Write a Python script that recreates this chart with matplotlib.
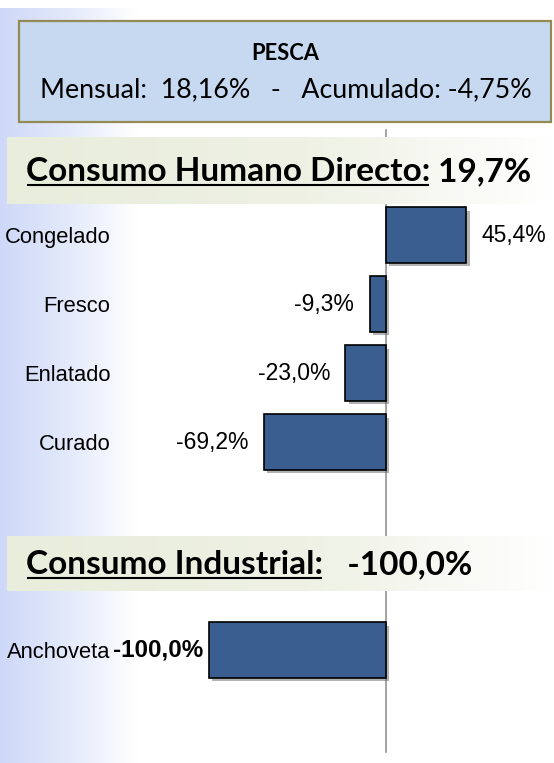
import numpy as np
import matplotlib
matplotlib.use("Agg")
import matplotlib.pyplot as plt
from matplotlib.colors import LinearSegmentedColormap
from matplotlib.patches import Rectangle
import matplotlib.patheffects as pe
import matplotlib.transforms as mtransforms
from matplotlib import font_manager as fm

# ---------------- data ----------------
header_title = "PESCA"
mensual = 18.16
acumulado = -4.75

chd_title = "Consumo Humano Directo:"
chd_total = 19.7
chd_categories = ["Congelado", "Fresco", "Enlatado", "Curado"]
chd_values = [45.4, -9.3, -23.0, -69.2]

ci_title = "Consumo Industrial:"
ci_total = -100.0
ci_categories = ["Anchoveta"]
ci_values = [-100.0]


def fmt(v, d=1):
    return f"{v:.{d}f}".replace(".", ",") + "%"


# ---------------- fonts ----------------
names = {f.name for f in fm.fontManager.ttflist}
if "Liberation Sans Narrow" in names:
    NARROW = dict(family="Liberation Sans Narrow")
elif "Liberation Sans" in names:
    NARROW = dict(family="Liberation Sans")
else:
    NARROW = dict(family="DejaVu Sans")
HEAD = "Lato" if "Lato" in names else "DejaVu Sans"

W, H = 554, 763
fig = plt.figure(figsize=(W / 100, H / 100), dpi=100)
fig.patch.set_facecolor("white")


def fit_width(t, target):
    fig.canvas.draw()
    w = t.get_window_extent().width
    return t.get_fontsize() * target / w


# ---------------- background layer ----------------
bg = fig.add_axes([0, 0, 1, 1], zorder=0)
bg.axis("off")
grad = np.linspace(0, 1, 256).reshape(1, -1)
left_cmap = LinearSegmentedColormap.from_list("l", ["#ced8f8", "#e4eafb", "#ffffff"])
bg.imshow(grad, cmap=left_cmap, extent=(0, 138, H, 8), aspect="auto",
          interpolation="bilinear", zorder=0)
bg.add_patch(Rectangle((19, 21), 532, 101, facecolor="#c6d9f0",
                       edgecolor="#948a54", lw=1.6, zorder=2))
t_pesca = bg.text(285, 53, header_title, ha="center", va="center",
                  fontweight="bold", family=HEAD, fontsize=16, zorder=3)
t_mens = bg.text(286, 90,
                 f"Mensual:  {fmt(mensual, 2)}   -   Acumulado: {fmt(acumulado, 2)}",
                 ha="center", va="center", family=HEAD, fontsize=19, zorder=3)
bg.set_xlim(0, W)
bg.set_ylim(H, 0)

# ---------------- bars ----------------
PX = 1.77          # pixels per percentage point
ZERO = 386         # pixel x of zero
LEFT = 112
xlim = ((LEFT - ZERO) / PX, (W - ZERO) / PX)
bar_color = "#395e8f"
shadow = [pe.SimplePatchShadow(offset=(2.5, -2.5), shadow_rgbFace="#555555", alpha=0.45),
          pe.Normal()]


def bar_axes(top_px, n):
    h = 69 * n
    ax = fig.add_axes([LEFT / W, 1 - (top_px + h) / H, (W - LEFT) / W, h / H], zorder=1)
    ax.patch.set_alpha(0)
    for s in ax.spines.values():
        s.set_visible(False)
    ax.set_xticks([])
    return ax


ax1 = bar_axes(200.5, len(chd_categories))
b1 = ax1.barh(range(len(chd_categories)), chd_values, height=0.8, color=bar_color,
              edgecolor="black", lw=1.2, zorder=3)
for p in b1:
    p.set_path_effects(shadow)
ax1.set_yticks(range(len(chd_categories)), chd_categories)
ax1.set_ylim(len(chd_categories) - 0.5, -0.5)
ax1.set_xlim(*xlim)
ax1.tick_params(length=0, pad=1, labelsize=17)
for lab in ax1.get_yticklabels():
    lab.set(**NARROW)
lab1 = ax1.bar_label(b1, labels=[fmt(v) for v in chd_values], padding=11,
                     fontsize=18, **NARROW)

ax2 = bar_axes(615.5, len(ci_categories))
b2 = ax2.barh(range(len(ci_categories)), ci_values, height=0.8, color=bar_color,
              edgecolor="black", lw=1.2, zorder=3)
for p in b2:
    p.set_path_effects(shadow)
ax2.set_yticks(range(len(ci_categories)), ci_categories)
ax2.set_ylim(len(ci_categories) - 0.5, -0.5)
ax2.set_xlim(*xlim)
ax2.tick_params(length=0, pad=1, labelsize=17)
for lab in ax2.get_yticklabels():
    lab.set(**NARROW)
lab2 = ax2.bar_label(b2, labels=[fmt(v) for v in ci_values], padding=4,
                     fontsize=18, fontweight="bold", **NARROW)

# fit narrow-font sizes to the reference widths (slightly generous)
tick_size = fit_width(ax1.get_yticklabels()[0], 107)
for ax in (ax1, ax2):
    ax.tick_params(labelsize=tick_size)
    for lab in ax.get_yticklabels():
        lab.set(**NARROW)
val_size = fit_width(lab1[0], 65)
for t in list(lab1):
    t.set_fontsize(val_size)
ci_size = fit_width(lab2[0], 90)
for t in list(lab2):
    t.set_fontsize(ci_size)

# zero line (x in data, y in figure pixels)
trans = mtransforms.blended_transform_factory(ax1.transData, bg.transData)
ax1.plot([0, 0], [130, 752], transform=trans, color="#8a8a8a", lw=1.1,
         clip_on=False, zorder=1)
ax1.set_xlim(*xlim)
ax1.set_ylim(len(chd_categories) - 0.5, -0.5)

# ---------------- bands layer ----------------
band = fig.add_axes([0, 0, 1, 1], zorder=2)
band.axis("off")
band.patch.set_alpha(0)
band_cmap = LinearSegmentedColormap.from_list(
    "b", [(0, "#e9eddb"), (0.55, "#eef1e4"), (1, "#ffffff")])
band.imshow(grad, cmap=band_cmap, extent=(7, W, 204, 137), aspect="auto",
            interpolation="bilinear", zorder=0)
band.imshow(grad, cmap=band_cmap, extent=(7, W, 591, 536), aspect="auto",
            interpolation="bilinear", zorder=0)
band.set_xlim(0, W)
band.set_ylim(H, 0)

t1 = band.text(26, 181, chd_title, family=HEAD, fontweight="bold", fontsize=22,
               va="baseline", ha="left", zorder=3)
t2 = band.text(26, 574, ci_title, family=HEAD, fontweight="bold", fontsize=22,
               va="baseline", ha="left", zorder=3)

t_pesca.set_fontsize(fit_width(t_pesca, 68))
t_mens.set_fontsize(fit_width(t_mens, 490))
t1.set_fontsize(fit_width(t1, 405))
t2.set_fontsize(t1.get_fontsize())

t1b = band.annotate(" " + fmt(chd_total), xy=(1, 0), xycoords=t1, va="bottom",
                    ha="left", family=HEAD, fontweight="bold",
                    fontsize=t1.get_fontsize(), zorder=3)
t2b = band.annotate("   " + fmt(ci_total), xy=(1, 0), xycoords=t2, va="bottom",
                    ha="left", family=HEAD, fontweight="bold",
                    fontsize=t2.get_fontsize(), zorder=3)

fig.canvas.draw()
inv = band.transData.inverted()
for t, y in ((t1, 185), (t2, 578)):
    bb = t.get_window_extent()
    (x0, _), (x1, _) = inv.transform([[bb.x0, bb.y0], [bb.x1, bb.y0]])
    band.plot([x0 + 1, x1 - 1], [y, y], color="black", lw=1.5, zorder=3,
              solid_capstyle="butt")
band.set_xlim(0, W)
band.set_ylim(H, 0)

fig.savefig("out.png", dpi=100, facecolor="white")
